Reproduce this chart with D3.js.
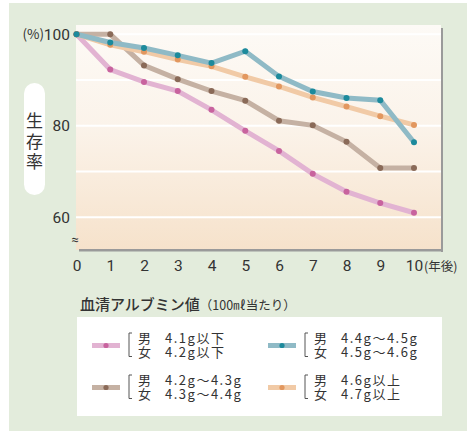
<!DOCTYPE html>
<html><head><meta charset="utf-8">
<script src="https://cdn.jsdelivr.net/npm/d3@7"></script>
<style>
html,body{margin:0;padding:0;background:#fff;}
svg{display:block;}
text{font-family:Roboto,"Noto Sans CJK JP",sans-serif;fill:#333;}
.jp{font-family:"Noto Sans CJK JP",sans-serif;}
</style>
</head><body>
<svg id="chart" width="467" height="431"></svg>
<script>
// Years after measurement
const years = [0,1,2,3,4,5,6,7,8,9,10];
// Survival rate (%) by serum albumin group
const lowAlb   = [100, 92.3, 89.6, 87.6, 83.5, 78.9, 74.5, 69.5, 65.6, 63.1, 61.0];
const midLow   = [100, 100, 93.2, 90.2, 87.6, 85.5, 81.1, 80.1, 76.5, 70.8, 70.8];
const midHigh  = [100, 98.2, 97.0, 95.4, 93.7, 96.3, 90.8, 87.5, 86.1, 85.6, 76.4];
const highAlb  = [100, 97.7, 96.2, 94.5, 93.0, 90.7, 88.6, 86.2, 84.2, 82.1, 80.2];
const yTicks = [60, 80, 100];
const gridVals = [60, 70, 80, 90, 100];
const legendTitle = "血清アルブミン値";
const legendUnit = "（100㎖当たり）";
const legendMale   = ["4.1g以下", "4.4g～4.5g", "4.2g～4.3g", "4.6g以上"];
const legendFemale = ["4.2g以下", "4.5g～4.6g", "4.3g～4.4g", "4.7g以上"];

const series = [
  {values: lowAlb,  line: "#e2b3d2", dot: "#c8639e"},
  {values: midLow,  line: "#c5b1a3", dot: "#8a6a58"},
  {values: highAlb, line: "#f1caa6", dot: "#e2975f"},
  {values: midHigh, line: "#8fbac6", dot: "#1c8a9c"}
];
// legend order: low, midHigh, midLow, high
const legendSeries = [series[0], series[3], series[1], series[2]];

const svg = d3.select("#chart");
const defs = svg.append("defs");
const grad = defs.append("linearGradient").attr("id","bg").attr("x1",0).attr("y1",0).attr("x2",0).attr("y2",1);
grad.append("stop").attr("offset","0%").attr("stop-color","#fdfaf6");
grad.append("stop").attr("offset","45%").attr("stop-color","#fbf3ea");
grad.append("stop").attr("offset","100%").attr("stop-color","#f6e2cb");

// Panel background
svg.append("rect").attr("x",9).attr("y",3).attr("width",458).attr("height",428).attr("fill","#e3ecdc");

const x = d3.scaleLinear().domain([0,10]).range([76.5,414]);
const y = d3.scaleLinear().domain([60,100]).range([217.3,34.3]);

const plotL = 76, plotR = 441, plotT = 25, plotB = 250;
// Frame shadow (right + bottom)
svg.append("rect").attr("x",plotR).attr("y",28).attr("width",2).attr("height",plotB-28+2).attr("fill","#9a9a9a");
svg.append("rect").attr("x",plotL).attr("y",plotT).attr("width",plotR-plotL).attr("height",plotB-plotT).attr("fill","url(#bg)");
svg.append("rect").attr("x",79).attr("y",plotB-1).attr("width",plotR-79+2).attr("height",2.5).attr("fill","#9a9a9a");

// Grid lines
svg.append("g").selectAll("line").data(gridVals).join("line")
  .attr("x1",plotL).attr("x2",plotR).attr("y1",d=>y(d)).attr("y2",d=>y(d))
  .attr("stroke","#ffffff").attr("stroke-width",2);

// Y axis labels
const yAxis = d3.axisLeft(y).tickValues(yTicks).tickSize(0).tickPadding(0).tickFormat(d3.format("d"));
const gy = svg.append("g").attr("transform","translate(70,0)").call(yAxis);
gy.select(".domain").remove();
gy.selectAll("text").attr("font-size",15.5).attr("fill","#333").style("font-family","Roboto");
svg.append("text").attr("class","jp").attr("x",44).attr("y",y(100)).attr("dy","0.36em")
  .attr("text-anchor","end").attr("font-size",13.5).text("(%)");
svg.append("text").attr("x",75).attr("y",239).attr("dy","0.35em").attr("text-anchor","middle")
  .attr("font-size",13).text("≈");

// X axis labels
const xAxis = d3.axisBottom(x).tickValues(years).tickSize(0).tickPadding(0).tickFormat(d3.format("d"));
const gx = svg.append("g").attr("transform","translate(0,260)").call(xAxis);
gx.select(".domain").remove();
gx.selectAll("text").attr("font-size",15.5).attr("fill","#333").style("font-family","Roboto").attr("dy","0.71em");
svg.append("text").attr("class","jp").attr("x",424).attr("y",267).attr("dy","0.35em")
  .attr("font-size",12.5).text("(年後)");

// Y axis title pill
svg.append("rect").attr("x",24).attr("y",83).attr("width",21).attr("height",112).attr("rx",10.5).attr("fill","#fff");
["生","存","率"].forEach((c,i)=>{
  svg.append("text").attr("class","jp").attr("x",34.5).attr("y",121+i*20.5).attr("dy","0.36em")
    .attr("text-anchor","middle").attr("font-size",17).text(c);
});

// Lines and points
const line = d3.line().x((d,i)=>x(years[i])).y(d=>y(d));
series.forEach(s=>{
  svg.append("path").datum(s.values).attr("d",line).attr("fill","none")
    .attr("stroke",s.line).attr("stroke-width",5).attr("stroke-linejoin","miter");
});
series.forEach(s=>{
  svg.append("g").selectAll("circle").data(s.values).join("circle")
    .attr("cx",(d,i)=>x(years[i])).attr("cy",d=>y(d)).attr("r",3).attr("fill",s.dot);
});

// Legend
const lt = svg.append("text").attr("class","jp").attr("x",80).attr("y",304).attr("dy","0.36em");
lt.append("tspan").attr("font-size",15).attr("font-weight",500).text(legendTitle);
lt.append("tspan").attr("font-size",12.5).text(legendUnit);

svg.append("rect").attr("x",77).attr("y",317).attr("width",365).attr("height",99).attr("fill","#fff");

const colX = [92, 268];
const rowY = [345, 387];
legendSeries.forEach((s,k)=>{
  const cx = colX[k%2], cy = rowY[Math.floor(k/2)];
  const g = svg.append("g");
  g.append("line").attr("x1",cx).attr("x2",cx+28).attr("y1",cy+0.5).attr("y2",cy+0.5)
    .attr("stroke",s.line).attr("stroke-width",5);
  g.append("circle").attr("cx",cx+14).attr("cy",cy+0.5).attr("r",2.6).attr("fill",s.dot);
  const bx = cx+37;
  g.append("path").attr("d",`M${bx+3},${cy-12}H${bx}V${cy+11.5}H${bx+3}`)
    .attr("fill","none").attr("stroke","#555").attr("stroke-width",1);
  // Two-line entry (male / female) as one text block
  const t = g.append("text").attr("class","jp").attr("font-size",13);
  [["男", legendMale[k], -7], ["女", legendFemale[k], 7]].forEach(([sex, val, dy])=>{
    t.append("tspan").attr("x",cx+46).attr("y",cy+dy+4.6).text(sex);
    t.append("tspan").attr("x",cx+73).attr("y",cy+dy+4.6).attr("letter-spacing",1.5).text(val);
  });
});
</script>
</body></html>
